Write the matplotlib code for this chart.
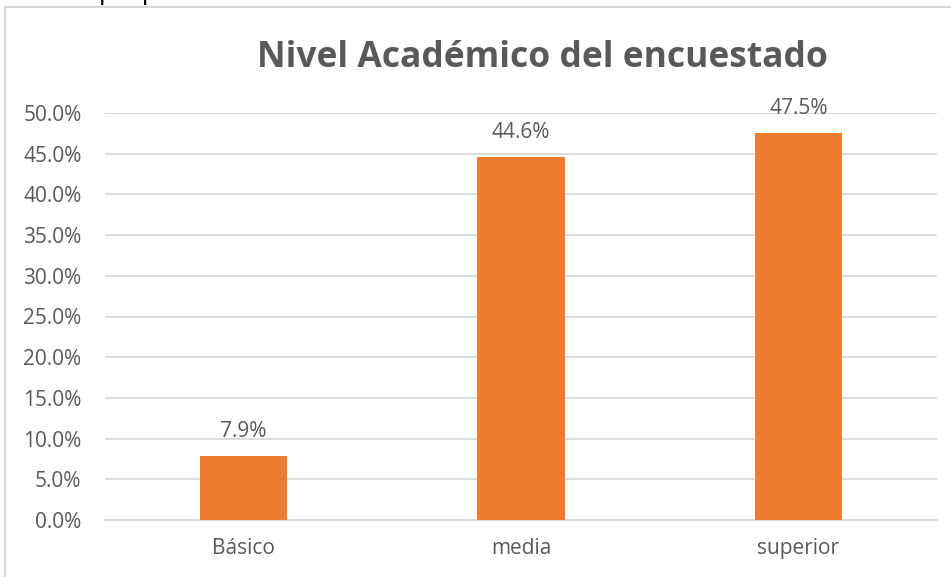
import matplotlib
matplotlib.use("Agg")
import matplotlib.pyplot as plt
from matplotlib.patches import Rectangle
from matplotlib.ticker import FuncFormatter, MultipleLocator

categories = ["Básico", "media", "superior"]
values = [7.9, 44.6, 47.5]
title = "Nivel Académico del encuestado"
top_note = "Fuente: propia"

TXT = "#595959"
BAR = "#ED7D31"
GRID = "#D9D9D9"
plt.rcParams['font.family'] = ['Open Sans', 'DejaVu Sans']

W, H = 951, 577
fig = plt.figure(figsize=(W / 100, H / 100), dpi=100)

# outer chart frame
fig.patches.append(Rectangle((5 / W, -0.1), 1.2, (H - 7) / H + 0.1, transform=fig.transFigure,
                             fill=False, edgecolor=GRID, linewidth=1.5))
# caption text above the chart (only its descenders are visible, as in the source)
fig.text(0 / W, 1 + 1 / H, top_note, fontsize=19, color="black", va="baseline", ha="left")

left, right = 105 / W, 937 / W
bottom, top = 1 - 520 / H, 1 - 113 / H
ax = fig.add_axes([left, bottom, right - left, top - bottom])

x = range(len(categories))
bars = ax.bar(x, values, width=0.314, color=BAR, zorder=3)
ax.set_xlim(-0.5, len(categories) - 0.5)
ax.set_ylim(0, 50)
ax.yaxis.set_major_locator(MultipleLocator(5))
ax.yaxis.set_major_formatter(FuncFormatter(lambda v, p: f"{v:.1f}%"))
ax.set_xticks(list(x))
ax.set_xticklabels(categories)
ax.grid(axis="y", color=GRID, linewidth=1.3, zorder=0)
for s in ["top", "right", "left"]:
    ax.spines[s].set_visible(False)
ax.spines["bottom"].set_color(GRID)
ax.spines["bottom"].set_linewidth(1.3)
ax.tick_params(axis="both", length=0, labelsize=15, labelcolor=TXT)
ax.tick_params(axis="y", pad=17)
ax.tick_params(axis="x", pad=13)

for xi, v in zip(x, values):
    ax.annotate(f"{v:.1f}%", (xi, v), xytext=(0, 19 * 0.72), textcoords="offset points",
                ha="center", va="baseline", fontsize=15, color=TXT)

fig.text(542 / W, 1 - 67 / H, title, fontsize=25.5, fontweight="bold", color=TXT,
         ha="center", va="baseline")

fig.savefig("out.png", dpi=100)
